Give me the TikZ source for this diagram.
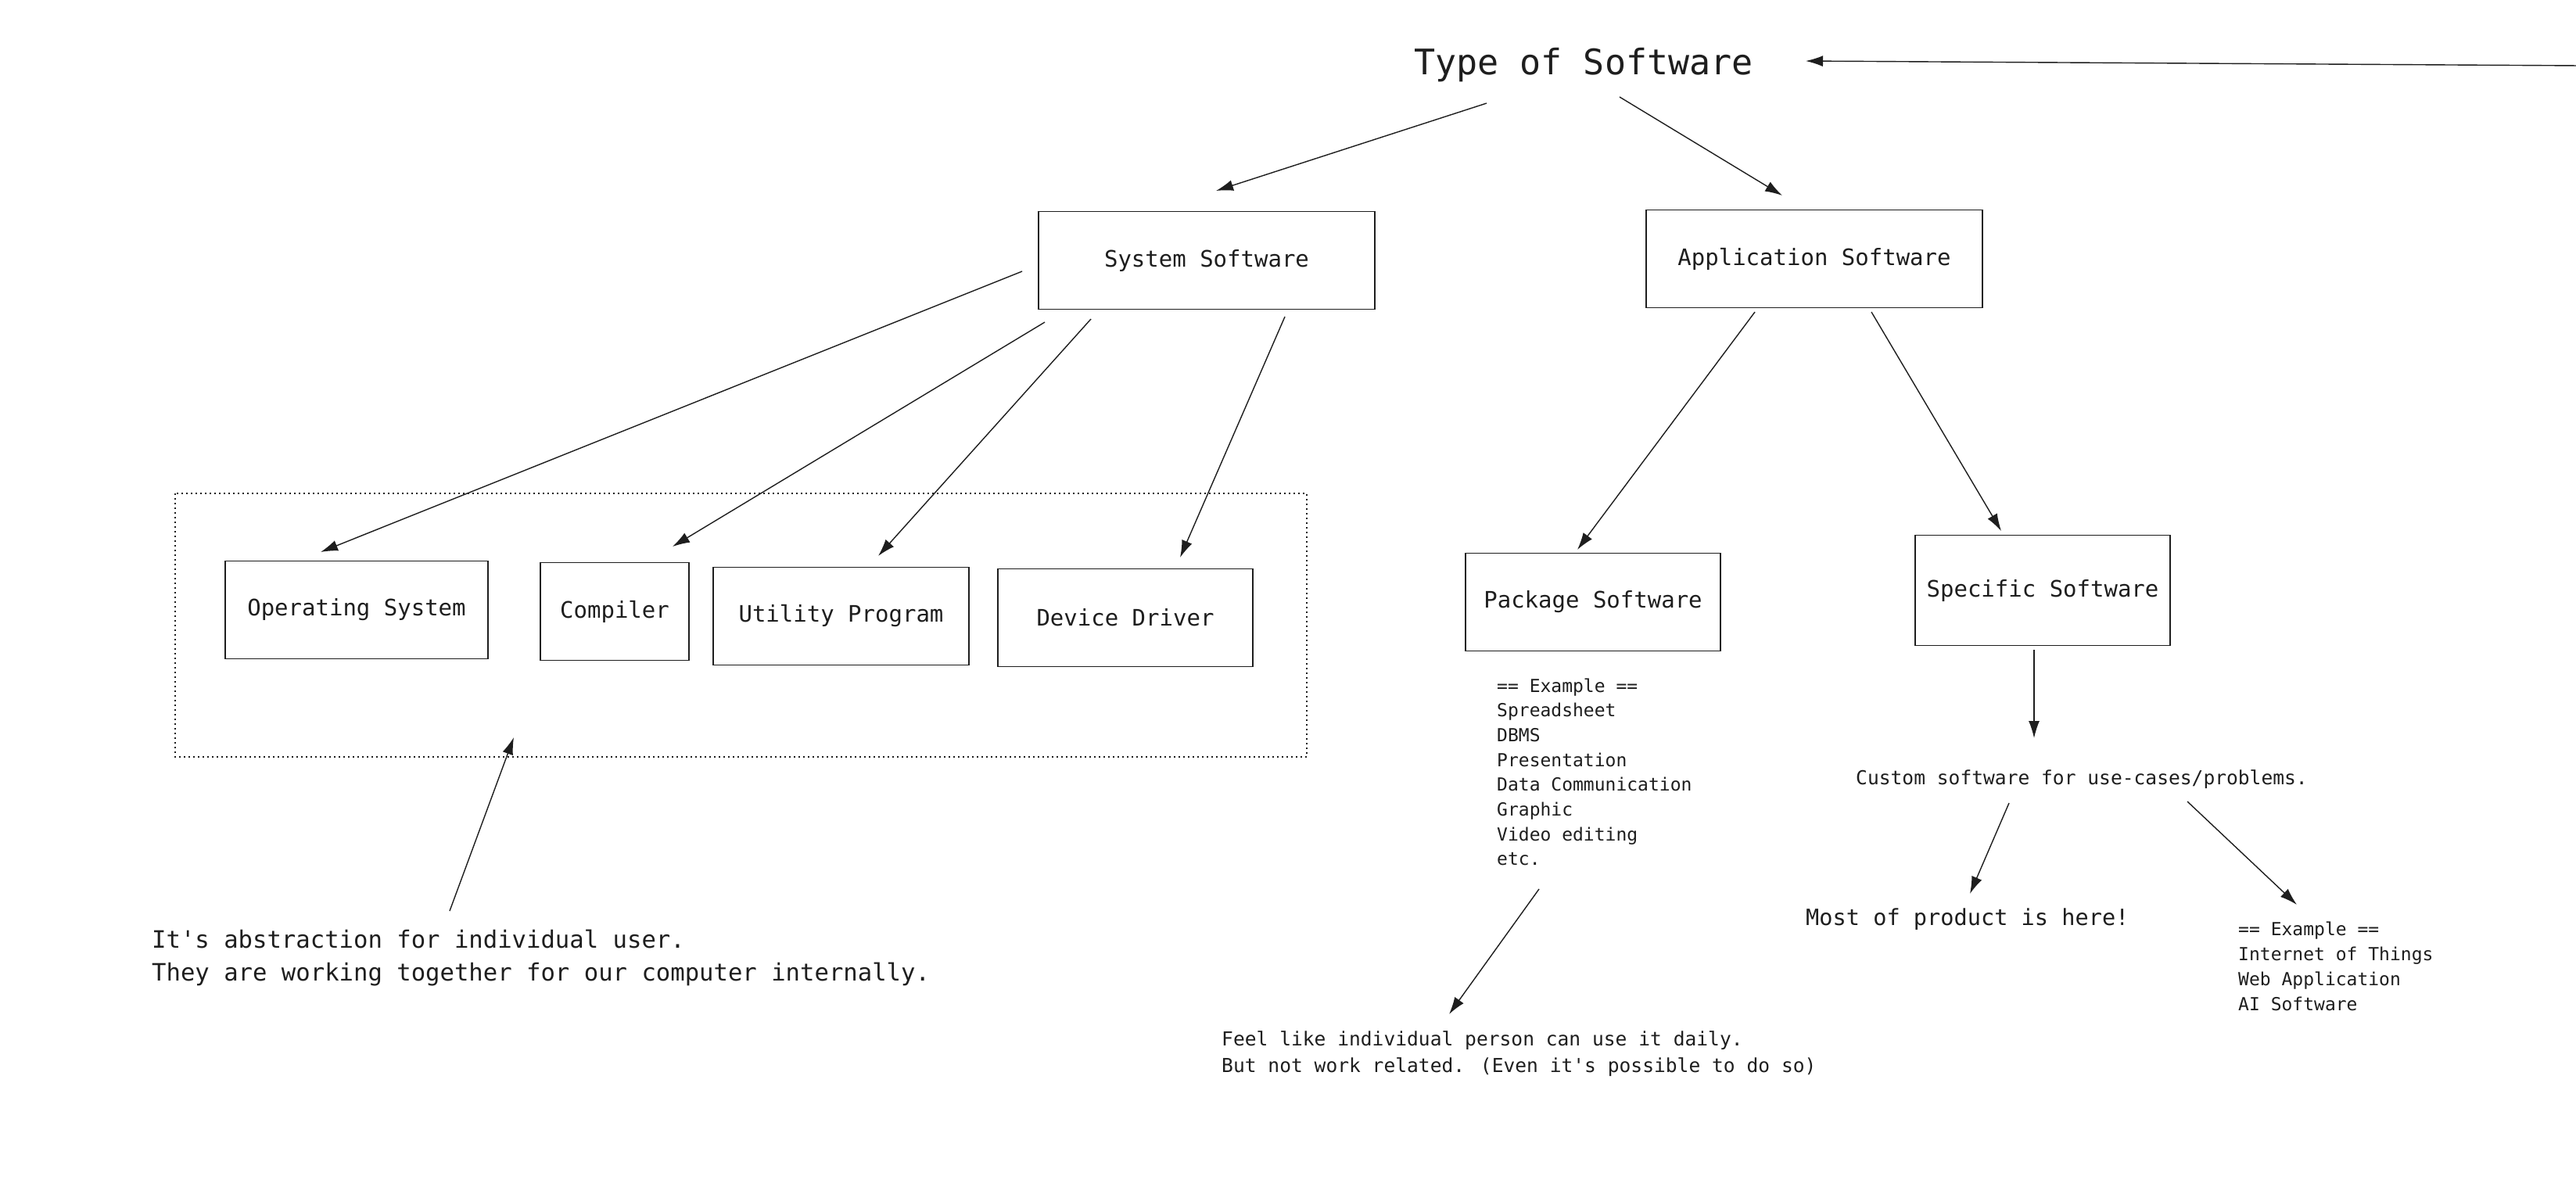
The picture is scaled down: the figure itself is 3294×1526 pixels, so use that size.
\documentclass[tikz,border=0pt]{standalone}
\usepackage{fontspec}
\setmainfont{DejaVu Sans Mono}
\usetikzlibrary{arrows.meta}
\definecolor{ink}{HTML}{1E1E1E}
\tikzset{
  box/.style={draw=ink, line width=1.8pt, rectangle, inner sep=0pt, text=ink,
    font=\fontsize{29}{34}\selectfont},
  txt/.style={anchor=base west, inner sep=0pt, text=ink},
  conn/.style={draw=ink, line width=1.4pt, -{Latex[length=22pt,width=14pt]}},
  groupbox/.style={draw=ink, line width=1.6pt, dash pattern=on 2pt off 4pt}
}
\begin{document}
\begin{tikzpicture}[x=1pt,y=-1pt]
\useasboundingbox (0,0) rectangle (3294,1526);
\fill[white] (0,0) rectangle (3294,1526);

% title
\node[txt, font=\fontsize{45}{54}\selectfont] (title) at (1808,95) {Type of Software};

% boxes
\node[box, minimum width=430pt, minimum height=125pt] (sys) at (1543,333) {System Software};
\node[box, minimum width=430pt, minimum height=125pt] (app) at (2320,331) {Application Software};
\node[box, minimum width=336pt, minimum height=125pt] (os) at (456,780) {Operating System};
\node[box, minimum width=190pt, minimum height=125pt] (comp) at (786,782) {Compiler};
\node[box, minimum width=327pt, minimum height=125pt] (util) at (1075.5,788) {Utility Program};
\node[box, minimum width=326pt, minimum height=125pt] (dev) at (1439,790) {Device Driver};
\node[box, minimum width=326pt, minimum height=125pt] (pkg) at (2037,770) {Package Software};
\node[box, minimum width=326pt, minimum height=141pt] (spec) at (2612,755) {Specific Software};

% dotted group
\draw[groupbox] (224,631) rectangle (1671,968);

% package examples
\foreach \t [count=\i] in {{== Example ==},Spreadsheet,DBMS,Presentation,{Data Communication},Graphic,{Video editing},etc.}{
  \node[txt, font=\fontsize{23}{28}\selectfont] (pkgex\i) at (1914,{885+31.7*(\i-1)}) {\t};
}

% specific examples
\foreach \t [count=\i] in {{== Example ==},{Internet of Things},{Web Application},{AI Software}}{
  \node[txt, font=\fontsize{23}{28}\selectfont] (spex\i) at (2862,{1196+32*(\i-1)}) {\t};
}

% notes
\node[txt, font=\fontsize{30.6}{36}\selectfont] (abs1) at (194,1212) {It\textquotesingle s abstraction for individual user.};
\node[txt, font=\fontsize{30.6}{36}\selectfont] (abs2) at (194,1254) {They are working together for our computer internally.};
\node[txt, font=\fontsize{24.6}{30}\selectfont] (feel1) at (1562,1337) {Feel like individual person can use it daily.};
\node[txt, font=\fontsize{24.6}{30}\selectfont] (feel2) at (1562,1371) {But not work related. (Even it\textquotesingle s possible to do so)};
\node[txt, font=\fontsize{24.6}{30}\selectfont] (custom) at (2373,1003) {Custom software for use-cases/problems.};
\node[txt, font=\fontsize{28.6}{34}\selectfont] (most) at (2309,1183) {Most of product is here!};

% connector end points
\coordinate (rin) at (3300,84);
\coordinate (rout) at (2309,78);
\coordinate (t1a) at (1901,132); \coordinate (t1b) at (1555,244);
\coordinate (t2a) at (2071,124); \coordinate (t2b) at (2279,250);
\coordinate (s1a) at (1307,347); \coordinate (s1b) at (410,706);
\coordinate (s2a) at (1336,412); \coordinate (s2b) at (860,699);
\coordinate (s3a) at (1395,408); \coordinate (s3b) at (1123,711);
\coordinate (s4a) at (1643,405); \coordinate (s4b) at (1509,713);
\coordinate (a1a) at (2244,399); \coordinate (a1b) at (2017,703);
\coordinate (a2a) at (2393,399); \coordinate (a2b) at (2559,679);
\coordinate (upa) at (575,1165); \coordinate (upb) at (657,943);
\coordinate (pka) at (1968,1137); \coordinate (pkb) at (1853,1297);
\coordinate (spa) at (2601,831); \coordinate (spb) at (2601,944);
\coordinate (c1a) at (2569,1027); \coordinate (c1b) at (2519,1143);
\coordinate (c2a) at (2797,1025); \coordinate (c2b) at (2937,1157);

\draw[conn] (rin) -- (rout);
\draw[conn] (t1a) -- (t1b);
\draw[conn] (t2a) -- (t2b);
\draw[conn] (s1a) -- (s1b);
\draw[conn] (s2a) -- (s2b);
\draw[conn] (s3a) -- (s3b);
\draw[conn] (s4a) -- (s4b);
\draw[conn] (a1a) -- (a1b);
\draw[conn] (a2a) -- (a2b);
\draw[conn] (upa) -- (upb);
\draw[conn] (pka) -- (pkb);
\draw[conn] (spa) -- (spb);
\draw[conn] (c1a) -- (c1b);
\draw[conn] (c2a) -- (c2b);
\end{tikzpicture}
\end{document}
